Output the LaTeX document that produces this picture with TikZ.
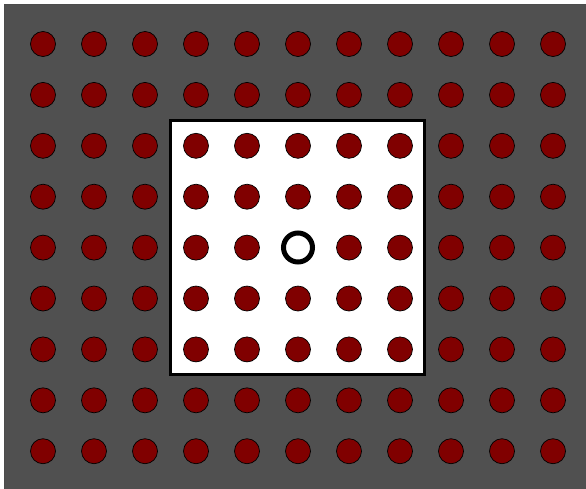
\documentclass[tikz,border=0pt]{standalone}
\definecolor{bggray}{RGB}{80,80,80}
\definecolor{dotred}{RGB}{128,0,0}
\tikzset{
  dot/.style={circle,draw=black,line width=0.7pt,fill=dotred,minimum size=25pt,inner sep=0pt},
  hole/.style={circle,draw=black,line width=5pt,fill=white,minimum size=29pt,inner sep=0pt},
}
\begin{document}
\begin{tikzpicture}[x=1pt,y=-1pt]
\useasboundingbox (0,0) rectangle (586,488);
\fill[white] (0,0) rectangle (586,488);
\draw[fill=bggray,draw=black!70,line width=1pt] (4.5,4.5) rectangle (590,492);
\node[draw=black,line width=3.5pt,fill=white,minimum width=254pt,minimum height=254pt,inner sep=0pt] (win) at (297.5,247.5) {};
\foreach \i in {0,...,10} {
  \foreach \j in {0,...,8} {
    \pgfmathtruncatemacro{\ci}{\i}
    \pgfmathtruncatemacro{\cj}{\j}
    \ifnum\ci=5 \ifnum\cj=4 \else
      \node[dot] (d\i-\j) at ({43+51*\i},{44+50.9*\j}) {};
    \fi\else
      \node[dot] (d\i-\j) at ({43+51*\i},{44+50.9*\j}) {};
    \fi
  }
}
\node[hole] (center) at (298,247.5) {};
\end{tikzpicture}
\end{document}
